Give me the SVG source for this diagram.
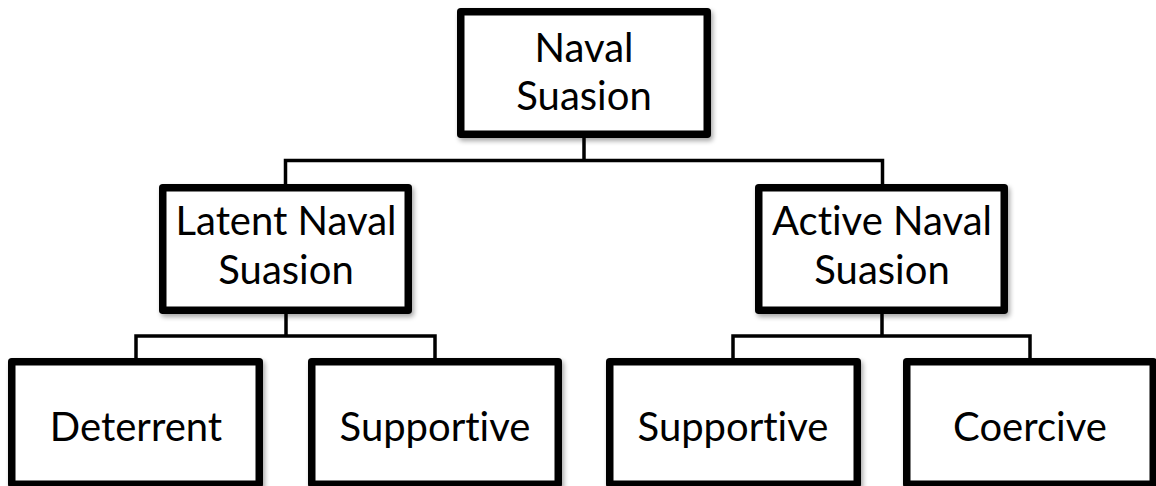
<svg xmlns="http://www.w3.org/2000/svg" width="1156" height="486" viewBox="0 0 1156 486">
  <defs>
    <filter id="shadow" x="-10%" y="-10%" width="125%" height="130%">
      <feGaussianBlur in="SourceAlpha" stdDeviation="2.5"/>
      <feOffset dx="2" dy="3" result="blur"/>
      <feComponentTransfer><feFuncA type="linear" slope="0.35"/></feComponentTransfer>
      <feMerge><feMergeNode/><feMergeNode in="SourceGraphic"/></feMerge>
    </filter>
  </defs>
  <style>
    .box { fill: #ffffff; stroke: #000000; stroke-width: 7.5; stroke-linejoin: round; filter: url(#shadow); }
    .link { fill: none; stroke: #000000; stroke-width: 3.5; stroke-linejoin: miter; }
    .label { font-family: "Lato", "Open Sans", "Liberation Sans", sans-serif; font-size: 40px; fill: #000000; text-anchor: middle; font-variant-ligatures: none; }
  </style>
  <rect width="1156" height="486" fill="#ffffff"/>

  <!-- tree connectors -->
  <g id="connectors">
    <path class="link" d="M584 138 V160.5 M285.5 184 V160.5 H882.5 V184"/>
    <path class="link" d="M286 314 V336 M136 358 V336 H435 V358"/>
    <path class="link" d="M882 314 V336 M733 358 V336 H1030 V358"/>
  </g>

  <g id="naval-suasion">
    <rect class="box" x="460.75" y="11.75" width="246.5" height="122.5"/>
    <text class="label" x="584" y="62">Naval</text>
    <text class="label" x="584" y="110">Suasion</text>
  </g>

  <g id="latent-naval-suasion">
    <rect class="box" x="162.75" y="187.75" width="245.5" height="122.5"/>
    <text class="label" x="286" y="235">Latent Naval</text>
    <text class="label" x="286" y="284">Suasion</text>
  </g>

  <g id="active-naval-suasion">
    <rect class="box" x="758.75" y="187.75" width="245.5" height="122.5"/>
    <text class="label" x="882" y="235">Active Naval</text>
    <text class="label" x="882" y="284">Suasion</text>
  </g>

  <g id="deterrent">
    <rect class="box" x="11.75" y="361.75" width="247.5" height="122.5"/>
    <text class="label" x="136" y="441">Deterrent</text>
  </g>

  <g id="supportive-latent">
    <rect class="box" x="311.75" y="361.75" width="246.5" height="122.5"/>
    <text class="label" x="435" y="441">Supportive</text>
  </g>

  <g id="supportive-active">
    <rect class="box" x="609.75" y="361.75" width="247.5" height="122.5"/>
    <text class="label" x="733" y="441">Supportive</text>
  </g>

  <g id="coercive">
    <rect class="box" x="906.75" y="361.75" width="246.5" height="122.5"/>
    <text class="label" x="1030" y="441">Coercive</text>
  </g>
</svg>
